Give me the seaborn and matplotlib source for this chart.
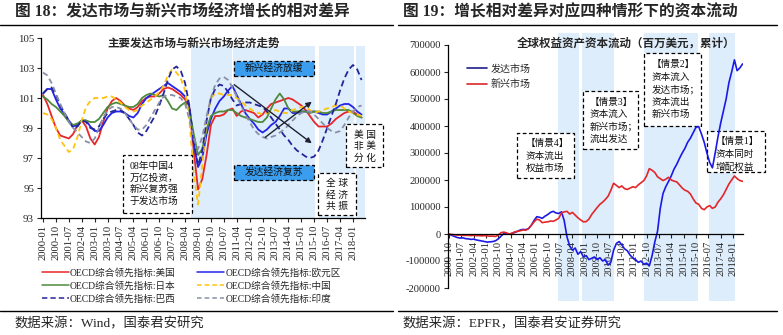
import numpy as np
import pandas as pd
import matplotlib
matplotlib.use("Agg")
import matplotlib.pyplot as plt
import matplotlib.dates as mdates
from matplotlib.patches import Rectangle, FancyArrowPatch
from matplotlib.lines import Line2D
import seaborn as sns

sns.set_theme(style="ticks")
plt.rcParams['font.family'] = ['Liberation Serif', 'Noto Sans CJK SC']
plt.rcParams['axes.unicode_minus'] = False

# ---------------- OECD composite leading indicators (quarterly, from 2000-01) ----------------
cli_start = "2000-01-01"
cli_us = [101.2, 100.6, 99.8, 99.0, 98.5, 98.4, 98.3, 98.6, 99.2, 99.5,
          99.1, 98.3, 97.9, 98.4, 99.4, 100.3, 100.8, 101.0, 100.8, 100.5,
          100.3, 100.2, 100.4, 100.8, 101.0, 101.1, 101.1, 101.3, 101.6, 101.7,
          101.6, 101.4, 101.2, 100.9, 100.3, 97.5, 94.9, 95.6, 97.2, 99.2,
          99.8, 99.8, 99.9, 100.2, 100.3, 99.8, 100.1, 100.2, 100.1, 100.0,
          99.7, 99.9, 100.3, 100.6, 100.7, 100.8, 100.9, 101.0, 100.9, 100.7,
          100.5, 100.2, 99.8, 99.4, 99.1, 99.1, 99.1, 99.3, 99.6, 99.8,
          100.0, 100.1, 100.1, 99.9, 99.7]
cli_euro = [101.3, 101.6, 101.6, 100.9, 100.3, 99.9, 99.5, 99.1, 99.2, 99.5,
            99.5, 99.1, 98.8, 98.8, 99.2, 99.7, 100.0, 100.1, 100.1, 100.0,
            99.8, 99.7, 100.0, 100.6, 101.0, 101.2, 101.4, 101.6, 101.8, 102.0,
            101.8, 101.6, 101.4, 101.1, 100.4, 98.0, 96.4, 97.0, 98.6, 99.6,
            100.3, 100.8, 101.1, 101.5, 101.8, 101.2, 100.6, 100.0, 99.6, 99.3,
            98.9, 98.7, 98.9, 99.2, 99.4, 99.8, 100.3, 100.3, 100.0, 100.0,
            100.1, 100.1, 100.1, 100.1, 100.0, 99.9, 99.9, 100.1, 100.3, 100.5,
            100.6, 100.6, 100.4, 100.1, 99.9]
cli_japan = [101.1, 100.9, 100.6, 100.4, 100.1, 99.8, 99.4, 99.2, 99.3, 99.5,
             99.5, 99.4, 99.4, 99.6, 100.0, 100.4, 100.6, 100.7, 100.6, 100.5,
             100.4, 100.4, 100.6, 101.0, 101.2, 101.3, 101.2, 101.1, 101.2, 100.8,
             100.3, 100.2, 100.5, 100.7, 100.2, 98.6, 97.2, 97.6, 98.9, 99.8,
             100.0, 100.1, 100.1, 100.2, 100.2, 100.0, 99.8, 99.7, 99.6, 99.5,
             99.4, 99.4, 99.7, 100.3, 100.9, 101.3, 100.9, 100.3, 100.1, 100.1,
             100.1, 100.1, 100.0, 100.1, 100.1, 100.0, 100.0, 100.1, 100.2, 100.2,
             100.2, 100.2, 100.0, 99.8, 99.7]
cli_china = [100.0, 99.9, 99.6, 99.0, 98.2, 97.8, 97.4, 97.6, 98.4, 99.5,
             100.4, 100.8, 101.0, 101.0, 101.0, 101.1, 101.1, 100.9, 100.7, 100.4,
             100.2, 100.1, 100.2, 100.5, 100.7, 100.9, 101.1, 101.4, 101.8, 102.5,
             102.9, 102.7, 102.3, 101.5, 99.5, 96.0, 93.9, 96.5, 99.5, 101.0,
             101.3, 101.3, 101.2, 101.2, 101.2, 101.0, 100.8, 100.5, 100.3, 100.1,
             100.0, 99.9, 100.0, 100.1, 100.2, 100.1, 100.0, 100.0, 100.2, 100.3,
             100.4, 100.4, 100.2, 100.0, 100.1, 100.2, 100.3, 100.4, 100.5, 100.5,
             100.3, 100.1, 100.0, 99.9, 99.8]
cli_brazil = [101.3, 101.6, 101.7, 101.2, 100.5, 100.0, 99.5, 99.0, 99.1, 99.5,
              99.4, 99.0, 98.9, 99.1, 99.6, 100.0, 100.1, 100.2, 100.2, 100.0,
              99.6, 99.2, 98.7, 98.5, 98.8, 99.3, 99.8, 100.5, 101.3, 102.2,
              102.9, 103.1, 102.8, 102.0, 100.5, 98.0, 96.5, 97.5, 99.5, 101.0,
              101.6, 101.9, 101.8, 101.4, 100.9, 100.5, 100.6, 100.7, 100.7, 100.6,
              100.5, 100.4, 100.1, 99.7, 99.3, 98.9, 98.5, 98.2, 97.8, 97.5,
              97.3, 97.1, 97.0, 97.1, 97.5, 98.2, 99.0, 99.8, 100.6, 101.5,
              102.3, 102.9, 103.2, 102.9, 102.2]
cli_india = [102.7, 102.5, 102.0, 101.3, 100.6, 100.0, 99.4, 99.0, 98.7, 98.4,
             98.1, 98.0, 98.3, 99.0, 99.7, 100.2, 100.4, 100.4, 100.3, 100.0,
             99.6, 99.2, 98.9, 98.9, 99.2, 99.7, 100.2, 100.7, 101.1, 101.2,
             101.2, 101.1, 101.0, 100.6, 99.6, 98.3, 97.6, 98.4, 99.8, 101.0,
             101.9, 102.3, 102.4, 102.2, 101.7, 101.1, 100.5, 99.9, 99.4, 98.9,
             98.6, 98.4, 98.3, 98.4, 98.5, 98.7, 98.9, 99.2, 99.5, 99.8,
             100.0, 100.1, 100.1, 99.9, 99.6, 99.3, 99.0, 98.8, 98.7, 98.8,
             99.2, 99.7, 100.1, 100.4, 100.5]
cli_labels = ["OECD综合领先指标:美国", "OECD综合领先指标:欧元区", "OECD综合领先指标:日本",
              "OECD综合领先指标:中国", "OECD综合领先指标:巴西", "OECD综合领先指标:印度"]

# ---------------- cumulative equity fund flows, USD mn (bi-monthly, from 2000-10) ----------------
flow_start = "2000-10-01"
flow_dev = [0, -5000, -9000, -13000, -15000, -14000, -17000, -18000, -20000, -19000,
            -22000, -24000, -26000, -28000, -30000, -29000, -28000, -25000, -18000, -8000,
            2000, 1000, 0, 2000, 6000, 10000, 15000, 17000, 16000, 20000,
            32000, 50000, 64000, 62000, 58000, 66000, 72000, 80000, 84000, 78000,
            76000, 82000, 50000, -10000, -45000, -60000, -52000, -75000, -65000, -85000,
            -80000, -95000, -90000, -85000, -95000, -88000, -100000, -95000, -115000, -105000,
            -60000, -35000, -28000, -40000, -55000, -62000, -78000, -88000, -95000, -105000,
            -100000, -112000, -108000, -118000, -80000, -30000, 10000, 95000, 150000, 175000,
            195000, 215000, 240000, 258000, 280000, 300000, 318000, 340000, 355000, 375000,
            395000, 398000, 370000, 340000, 300000, 265000, 245000, 300000, 360000, 410000,
            455000, 500000, 560000, 600000, 645000, 605000, 615000, 630000]
flow_em = [0, -2000, -3000, -4000, -4000, -5000, -5000, -5000, -6000, -5000,
           -6000, -6000, -7000, -6000, -7000, -8000, -8000, -9000, -4000, 5000,
           7000, 4000, 0, 3000, 8000, 10000, 12000, 15000, 14000, 20000,
           32000, 45000, 55000, 52000, 42000, 44000, 45000, 48000, 47000, 52000,
           58000, 78000, 82000, 84000, 74000, 80000, 70000, 60000, 52000, 45000,
           46000, 55000, 72000, 85000, 98000, 110000, 118000, 128000, 140000, 162000,
           188000, 180000, 172000, 178000, 168000, 165000, 170000, 175000, 172000, 182000,
           190000, 198000, 215000, 242000, 236000, 228000, 212000, 205000, 198000, 203000,
           210000, 200000, 196000, 193000, 182000, 170000, 162000, 158000, 148000, 130000,
           115000, 110000, 95000, 90000, 100000, 105000, 95000, 100000, 118000, 130000,
           145000, 165000, 185000, 200000, 215000, 205000, 198000, 195000]
flow_labels = ["发达市场", "新兴市场"]

# phases shaded on each panel
cli_phases = [("2008-08-01", "2010-12-20"), ("2011-01-15", "2015-10-15"),
              ("2016-01-01", "2018-01-15"), ("2018-03-01", "2018-09-30")]
flow_phases = [("2007-05-10", "2008-09-01"), ("2008-11-01", "2010-10-10"),
               ("2012-08-10", "2015-11-15"), ("2016-07-10", "2018-02-10")]

W, H = 783, 335
fig = plt.figure(figsize=(W / 100, H / 100), dpi=100)
fig.patch.set_facecolor("white")


def fx(x):
    return x / W


def fy(y):
    return 1 - y / H


def box(x0, y0, x1, y1, fc="white", ax=None):
    r = Rectangle((fx(x0), fy(y1)), (x1 - x0) / W, (y1 - y0) / H,
                  transform=fig.transFigure, fc=fc, ec="black",
                  ls=(0, (3, 2)), lw=0.9, clip_on=False)
    if ax is None:
        r.set_zorder(5)
        fig.add_artist(r)
    else:
        # sits under the data lines of that axes
        r.set_zorder(1.2)
        ax.add_artist(r)


def lines_at(x, y0, step, lines, size=7.0, ha="left", color="#111111", ax=None):
    for i, s in enumerate(lines):
        if ax is None:
            fig.text(fx(x), fy(y0 + i * step), s, ha=ha, va="center",
                     fontsize=size, color=color, zorder=6)
        else:
            ax.text(fx(x), fy(y0 + i * step), s, ha=ha, va="center", fontsize=size,
                    color=color, zorder=1.4, transform=fig.transFigure, clip_on=False)


shade = "#DDEDFB"

# ================= left panel =================
axL = fig.add_axes([fx(41), fy(218), (365 - 41) / W, (218 - 38) / H])
cli_dates = pd.date_range(cli_start, periods=len(cli_us), freq="3MS")
cli_series = [cli_us, cli_euro, cli_japan, cli_china, cli_brazil, cli_india]
cli_styles = [("#E8262A", "-"), ("#2424E8", "-"), ("#4F8A3C", "-"),
              ("#FFC20E", (0, (3, 2))), ("#25259A", (0, (3.5, 2))), ("#8A8FA8", (0, (3, 2)))]

for (s, e) in cli_phases:
    axL.axvspan(pd.Timestamp(s), pd.Timestamp(e), ymin=0, ymax=(104.5 - 93) / 12,
                color=shade, lw=0, zorder=0)

cli_handles = []
for vals, lab, (c, ls) in zip(cli_series, cli_labels, cli_styles):
    sns.lineplot(x=cli_dates, y=vals, ax=axL, color=c, lw=1.3, linestyle=ls, legend=False)
    cli_handles.append(Line2D([], [], color=c, lw=1.1, linestyle=ls))

for sp in ["top", "right"]:
    axL.spines[sp].set_visible(False)
for sp in ["left", "bottom"]:
    axL.spines[sp].set_color("black")
    axL.spines[sp].set_linewidth(0.9)
axL.set_xlim(pd.Timestamp("1999-11-19"), pd.Timestamp("2018-09-12"))
axL.set_ylim(93, 105)
axL.set_yticks(np.arange(93, 106, 2))
cli_ticks = pd.date_range("2000-01-01", "2018-01-01", freq="9MS")
axL.set_xticks(cli_ticks)
axL.set_xticklabels([d.strftime("%Y-%m") for d in cli_ticks], rotation=90, fontsize=7.7)
axL.tick_params(axis="y", labelsize=7.8, length=3, width=0.8, pad=2)
axL.tick_params(axis="x", length=3, width=0.8, pad=2)
axL.set_xlabel("")
axL.set_ylabel("")
axL.set_facecolor("none")

fig.text(fx(194), fy(44), "主要发达市场与新兴市场经济走势", ha="center", va="center",
         fontsize=8.3, weight="bold")

order = [0, 2, 4, 1, 3, 5]
fig.legend([cli_handles[i] for i in order], [cli_labels[i] for i in order], ncol=2,
           loc="upper left", bbox_to_anchor=(fx(37), fy(263)), frameon=False,
           borderpad=0, handlelength=2.8, handletextpad=0.15, columnspacing=2.2,
           labelspacing=0.35, fontsize=6.9)

# annotation boxes, left panel
box(234, 61, 314, 76, fc="#3A9DEE")
lines_at(274, 68.5, 0, ["新兴经济放缓"], size=7.0, ha="center")
box(234, 165, 314, 180, fc="#3A9DEE")
lines_at(274, 172.5, 0, ["发达经济复苏"], size=7.0, ha="center")
box(123, 155, 192, 213)
lines_at(130, 166.5, 11.5, ["08年中国4", "万亿投资，", "新兴复苏强", "于发达市场"], size=7.0)
box(346, 124, 383, 167)
lines_at(364.5, 135, 11.5, ["美 国", "非 美", "分 化"], size=7.0, ha="center")
box(318, 173, 356, 215)
lines_at(337, 183.5, 11.5, ["全 球", "经 济", "共 振"], size=7.0, ha="center")

arrow_kw = dict(arrowstyle="-|>", color="#1E2233", lw=1.0, mutation_scale=8)
fig.add_artist(FancyArrowPatch((fx(232), fy(83)), (fx(314), fy(145)),
                               transform=fig.transFigure, zorder=4, **arrow_kw))
fig.add_artist(FancyArrowPatch((fx(263), fy(139)), (fx(314), fy(100)),
                               transform=fig.transFigure, zorder=4, **arrow_kw))

# ================= right panel =================
axR = fig.add_axes([fx(448), fy(288), (743 - 448) / W, (288 - 45) / H])
flow_dates = pd.date_range(flow_start, periods=len(flow_dev), freq="2MS")

for (s, e) in flow_phases:
    x0 = mdates.date2num(pd.Timestamp(s))
    x1 = mdates.date2num(pd.Timestamp(e))
    axR.add_patch(Rectangle((x0, -248000), x1 - x0, 992000, fc=shade, lw=0,
                            clip_on=False, zorder=0))

sns.lineplot(x=flow_dates, y=flow_dev, ax=axR, color="#1A1AE6", lw=1.2, legend=False)
sns.lineplot(x=flow_dates, y=flow_em, ax=axR, color="#E3262A", lw=1.2, legend=False)

# spine placement first: moving a spine resets tick label styling
axR.spines["bottom"].set_position(("data", 0))
for sp in ["top", "right"]:
    axR.spines[sp].set_visible(False)
for sp in ["left", "bottom"]:
    axR.spines[sp].set_color("black")
    axR.spines[sp].set_linewidth(0.9)
axR.set_xlim(pd.Timestamp("2000-09-10"), pd.Timestamp("2018-08-10"))
axR.set_ylim(-200000, 700000)
axR.set_yticks(np.arange(-200000, 700001, 100000))
axR.set_yticklabels([f"{v:d}" for v in range(-200000, 700001, 100000)])
flow_ticks = pd.date_range("2000-10-01", "2018-01-01", freq="9MS")
axR.set_xticks(flow_ticks)
axR.set_xticklabels([d.strftime("%Y-%m") for d in flow_ticks], rotation=90, fontsize=7.6)
axR.tick_params(axis="y", labelsize=7.6, length=3, width=0.8, pad=2)
axR.tick_params(axis="x", length=3, width=0.8, pad=2)
axR.set_xlabel("")
axR.set_ylabel("")
axR.set_facecolor("none")

axR.legend([Line2D([], [], color="#1F1F8A", lw=1.2), Line2D([], [], color="#D9262A", lw=1.2)],
           flow_labels, loc="upper left", bbox_to_anchor=(fx(462), fy(59)),
           bbox_transform=fig.transFigure, frameon=False, borderpad=0,
           handlelength=2.0, handletextpad=0.35, labelspacing=0.55, fontsize=7.2)

fig.text(fx(626), fy(44), "全球权益资产资本流动（百万美元，累计）", ha="center", va="center",
         fontsize=8.3, weight="bold")

box(517, 133, 574, 178, ax=axR)
lines_at(526, 143.5, 12.5, ["【情景4】", "资本流出", "权益市场"], size=6.9, ax=axR)
box(583, 91, 638, 149, ax=axR)
lines_at(590, 102, 12.5, ["【情景3】", "资本流入", "新兴市场；", "流出发达"], size=6.9, ax=axR)
box(644, 53, 701, 126, ax=axR)
lines_at(652, 64.5, 12.5, ["【情景2】", "资本流入", "发达市场；", "资本流出", "新兴市场"],
         size=6.9, ax=axR)
box(707, 131, 765, 172, ax=axR)
lines_at(716, 141, 13, ["【情景1】", "资本同时", "增配权益"], size=6.9, ax=axR)

# ================= titles, rules and sources =================
fig.text(fx(15), fy(12.5), "图 18：发达市场与新兴市场经济增长的相对差异", fontsize=11.3,
         weight="bold", va="center")
fig.text(fx(403), fy(12.5), "图 19：增长相对差异对应四种情形下的资本流动", fontsize=11.3,
         weight="bold", va="center")
for (a, b) in [(0, 393), (398, 777)]:
    fig.add_artist(Line2D([fx(a), fx(b)], [fy(24.5), fy(24.5)], color="black", lw=1.0,
                          transform=fig.transFigure))
    fig.add_artist(Line2D([fx(a), fx(b)], [fy(311), fy(311)], color="black", lw=1.0,
                          transform=fig.transFigure))
fig.text(fx(15), fy(324), "数据来源：Wind，国泰君安研究", fontsize=9.6, va="center")
fig.text(fx(403), fy(324), "数据来源：EPFR，国泰君安证券研究", fontsize=9.6, va="center")

fig.savefig("out.png", dpi=100, facecolor="white")
